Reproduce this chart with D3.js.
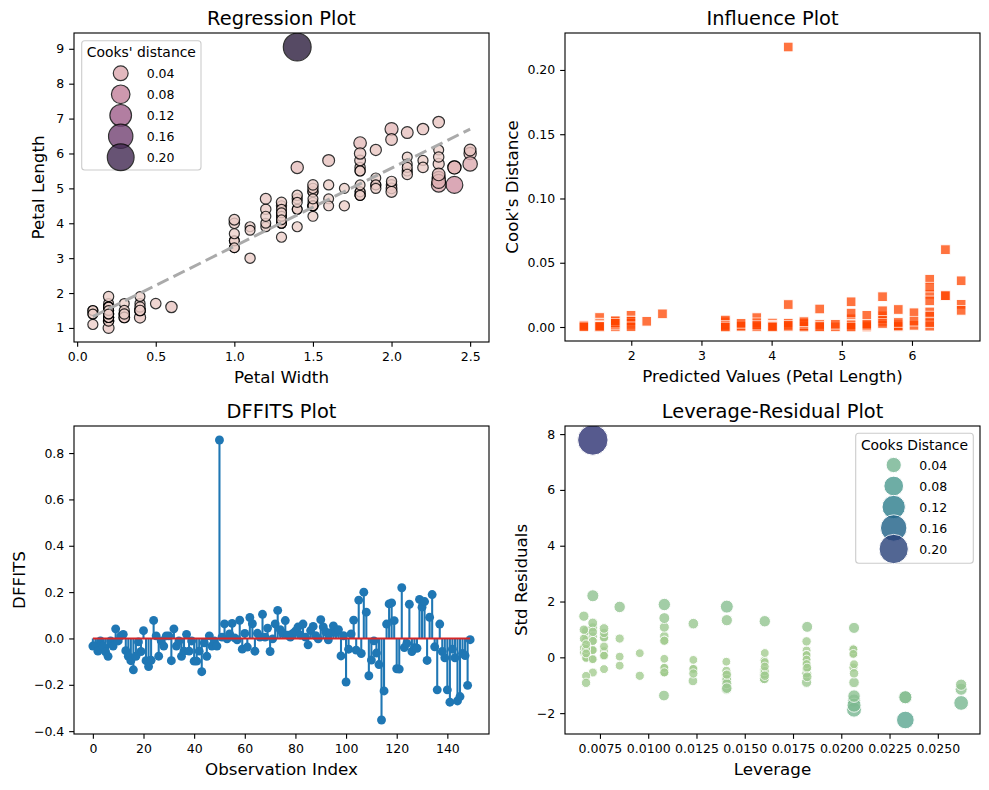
<!DOCTYPE html>
<html>
<head>
<meta charset="utf-8">
<script src="https://cdn.jsdelivr.net/npm/d3@7"></script>
<style>
body { margin: 0; background: #fff; }
svg { display: block; font-family: "DejaVu Sans", sans-serif; }
</style>
</head>
<body>
<svg id="chart" width="989" height="790"></svg>
<script>
// iris petal measurements; row 50 has its petal length pushed up to 9.05 (the outlier)
const petalWidth = [
  0.2,0.2,0.2,0.2,0.2,0.4,0.3,0.2,0.2,0.1, 0.2,0.2,0.1,0.1,0.2,0.4,0.4,0.3,0.3,0.3,
  0.2,0.4,0.2,0.5,0.2,0.2,0.4,0.2,0.2,0.2, 0.2,0.4,0.1,0.2,0.2,0.2,0.2,0.1,0.2,0.2,
  0.3,0.3,0.2,0.6,0.4,0.3,0.2,0.2,0.2,0.2,
  1.4,1.5,1.5,1.3,1.5,1.3,1.6,1.0,1.3,1.4, 1.0,1.5,1.0,1.4,1.3,1.4,1.5,1.0,1.5,1.1,
  1.8,1.3,1.5,1.2,1.3,1.4,1.4,1.7,1.5,1.0, 1.1,1.0,1.2,1.6,1.5,1.6,1.5,1.3,1.3,1.3,
  1.2,1.4,1.2,1.0,1.3,1.2,1.3,1.3,1.1,1.3,
  2.5,1.9,2.1,1.8,2.2,2.1,1.7,1.8,1.8,2.5, 2.0,1.9,2.1,2.0,2.4,2.3,1.8,2.2,2.3,1.5,
  2.3,2.0,2.0,1.8,2.1,1.8,1.8,1.8,2.1,1.6, 1.9,2.0,2.2,1.5,1.4,2.3,2.4,1.8,1.8,2.1,
  2.4,2.3,1.9,2.3,2.5,2.3,1.9,2.0,2.3,1.8
];
const petalLength = [
  1.4,1.4,1.3,1.5,1.4,1.7,1.4,1.5,1.4,1.5, 1.5,1.6,1.4,1.1,1.2,1.5,1.3,1.4,1.7,1.5,
  1.7,1.5,1.0,1.7,1.9,1.6,1.6,1.5,1.4,1.6, 1.6,1.5,1.5,1.4,1.5,1.2,1.3,1.4,1.3,1.5,
  1.3,1.3,1.3,1.6,1.9,1.4,1.6,1.4,1.5,1.4,
  9.05,4.5,4.9,4.0,4.6,4.5,4.7,3.3,4.6,3.9, 3.5,4.2,4.0,4.7,3.6,4.4,4.5,4.1,4.5,3.9,
  4.8,4.0,4.9,4.7,4.3,4.4,4.8,5.0,4.5,3.5, 3.8,3.7,3.9,5.1,4.5,4.5,4.7,4.4,4.1,4.0,
  4.4,4.6,4.0,3.3,4.2,4.2,4.2,4.3,3.0,4.1,
  6.0,5.1,5.9,5.6,5.8,6.6,4.5,6.3,5.8,6.1, 5.1,5.3,5.5,5.0,5.1,5.3,5.5,6.7,6.9,5.0,
  5.7,4.9,6.7,4.9,5.7,6.0,4.8,4.9,5.6,5.8, 6.1,6.4,5.6,5.1,5.6,6.1,5.6,5.5,4.8,5.4,
  5.6,5.1,5.1,5.9,5.7,5.2,5.0,5.2,5.4,5.1
];

const legendValues = [0.04, 0.08, 0.12, 0.16, 0.20];
const regXTicks = [0, 0.5, 1, 1.5, 2, 2.5];
const regYTicks = [1, 2, 3, 4, 5, 6, 7, 8, 9];
const inflXTicks = [2, 3, 4, 5, 6];
const inflYTicks = [0, 0.05, 0.10, 0.15, 0.20];
const dffXTicks = [0, 20, 40, 60, 80, 100, 120, 140];
const dffYTicks = [-0.4, -0.2, 0, 0.2, 0.4, 0.6, 0.8];
const levXTicks = [0.0075, 0.0100, 0.0125, 0.0150, 0.0175, 0.0200, 0.0225, 0.0250];
const levYTicks = [-2, 0, 2, 4, 6, 8];

// OLS: petal length ~ petal width, plus the usual influence measures
const n = petalWidth.length;
const xm = d3.mean(petalWidth), ym = d3.mean(petalLength);
let sxx = 0, sxy = 0;
petalWidth.forEach((x, i) => { sxx += (x - xm) ** 2; sxy += (x - xm) * (petalLength[i] - ym); });
const slope = sxy / sxx, icpt = ym - slope * xm;
const fitted = petalWidth.map(x => icpt + slope * x);
const resid = petalLength.map((y, i) => y - fitted[i]);
const leverage = petalWidth.map(x => 1 / n + (x - xm) ** 2 / sxx);
const sse = d3.sum(resid, e => e * e);
const s2 = sse / (n - 2);
const stdResid = resid.map((e, i) => e / Math.sqrt(s2 * (1 - leverage[i])));
const cooks = stdResid.map((r, i) => r * r / 2 * leverage[i] / (1 - leverage[i]));
const dffits = resid.map((e, i) => {
  const h = leverage[i];
  const s2i = (sse - e * e / (1 - h)) / (n - 3);
  return e / Math.sqrt(s2i * (1 - h)) * Math.sqrt(h / (1 - h));
});

const PT = 100 / 72;           // px per point
const TICK = 3.5 * PT;
const svg = d3.select('#chart');

// seaborn's default "ch:" cubehelix map
function cubehelixCh(t) {
  const x = 0.85 - 0.7 * t;
  const a = 0.8 * x * (1 - x) / 2, phi = 2 * Math.PI * 0.4 * x;
  const c = Math.cos(phi), s = Math.sin(phi);
  const cl = v => Math.max(0, Math.min(1, v)) * 255;
  return d3.rgb(cl(x + a * (-0.14861 * c + 1.78277 * s)),
                cl(x + a * (-0.29227 * c - 0.90649 * s)),
                cl(x + a * (1.97294 * c))).formatHex();
}
const crest = d3.piecewise(d3.interpolateRgb,
  ['#a5cd90', '#7dba91', '#59a590', '#40908e', '#287a8c', '#1c6488', '#254b7f', '#2c3172']);

const cookExt = d3.extent(cooks);
const cookNorm = d3.scaleLinear().domain(cookExt).range([0, 1]);
const regArea = d3.scaleLinear().domain(cookExt).range([50, 400]);
const levArea = d3.scaleLinear().domain(cookExt).range([40, 480]);
const radius = area => Math.sqrt(area) * PT / 2;

function padded(ext) {
  const m = (ext[1] - ext[0]) * 0.05;
  return [ext[0] - m, ext[1] + m];
}

let clipCount = 0;
function panel(box, xDom, yDom, xTicks, xFmt, yTicks, yFmt, title, xLabel, yLabel, yLabelX) {
  const g = svg.append('g');
  const x = d3.scaleLinear().domain(xDom).range([box.x0, box.x1]);
  const y = d3.scaleLinear().domain(yDom).range([box.y1, box.y0]);
  const id = 'clip' + (clipCount++);
  svg.append('clipPath').attr('id', id).append('rect')
    .attr('x', box.x0).attr('y', box.y0)
    .attr('width', box.x1 - box.x0).attr('height', box.y1 - box.y0);
  const plot = g.append('g').attr('clip-path', `url(#${id})`);

  const xa = g.append('g').attr('transform', `translate(0,${box.y1})`)
    .call(d3.axisBottom(x).tickValues(xTicks).tickFormat(d3.format(xFmt)).tickSize(TICK).tickPadding(TICK));
  const ya = g.append('g').attr('transform', `translate(${box.x0},0)`)
    .call(d3.axisLeft(y).tickValues(yTicks).tickFormat(d3.format(yFmt)).tickSize(TICK).tickPadding(TICK));
  [xa, ya].forEach(a => {
    a.select('.domain').remove();
    a.attr('font-size', 12.5).attr('font-family', null);
    a.selectAll('.tick line').attr('stroke', '#000').attr('stroke-width', 0.8 * PT);
    a.selectAll('.tick text').attr('fill', '#000');
  });

  g.append('rect').attr('x', box.x0).attr('y', box.y0)
    .attr('width', box.x1 - box.x0).attr('height', box.y1 - box.y0)
    .attr('fill', 'none').attr('stroke', '#000').attr('stroke-width', 0.8 * PT);

  g.append('text').attr('x', (box.x0 + box.x1) / 2).attr('y', box.y0 - 8)
    .attr('text-anchor', 'middle').attr('font-size', 19.4).text(title);
  g.append('text').attr('x', (box.x0 + box.x1) / 2).attr('y', box.y1 + 40.5)
    .attr('text-anchor', 'middle').attr('font-size', 16.7).text(xLabel);
  g.append('text')
    .attr('transform', `translate(${yLabelX},${(box.y0 + box.y1) / 2}) rotate(-90)`)
    .attr('text-anchor', 'middle').attr('font-size', 16.7).text(yLabel);
  return { g, x, y, plot };
}

function legend(g, frame, title, rowY, circX, labX, color, area, stroke, strokeW) {
  g.append('rect').attr('x', frame[0]).attr('y', frame[1])
    .attr('width', frame[2] - frame[0]).attr('height', frame[3] - frame[1])
    .attr('rx', 3).attr('fill', '#fff').attr('fill-opacity', 0.8)
    .attr('stroke', '#cccccc').attr('stroke-width', 1.1);
  g.append('text').attr('x', (frame[0] + frame[2]) / 2).attr('y', frame[1] + 16.5)
    .attr('text-anchor', 'middle').attr('font-size', 13.9).text(title);
  const row = g.selectAll('.lg').data(legendValues).enter().append('g')
    .attr('transform', (d, i) => `translate(0,${rowY + i * 21})`);
  row.append('circle').attr('cx', circX).attr('cy', 0)
    .attr('r', d => radius(area(d)))
    .attr('fill', d => color(cookNorm(d)))
    .attr('stroke', stroke).attr('stroke-width', strokeW).attr('opacity', 0.8);
  row.append('text').attr('x', labX).attr('y', 0).attr('dy', '0.36em')
    .attr('font-size', 12.5).text(d3.format('.2f'));
}

const idx = d3.range(n);

// --- Regression Plot
const A = panel({ x0: 74, x1: 489, y0: 33, y1: 342 },
  padded(d3.extent(petalWidth)), padded(d3.extent(petalLength)),
  regXTicks, '.1f', regYTicks, 'd',
  'Regression Plot', 'Petal Width', 'Petal Length', 43.5);
A.plot.selectAll('circle').data(idx).enter().append('circle')
  .attr('cx', i => A.x(petalWidth[i])).attr('cy', i => A.y(petalLength[i]))
  .attr('r', i => radius(regArea(cooks[i])))
  .attr('fill', i => cubehelixCh(cookNorm(cooks[i])))
  .attr('stroke', '#000').attr('stroke-width', 1.2).attr('opacity', 0.8);
const xr = d3.extent(petalWidth);
A.plot.append('path')
  .attr('d', d3.line().x(v => A.x(v)).y(v => A.y(icpt + slope * v))(xr))
  .attr('fill', 'none').attr('stroke', '#aaaaaa').attr('stroke-width', 3)
  .attr('stroke-dasharray', '12.5,5.5');
legend(A.g, [81.7, 40.7, 201, 170], "Cooks' distance", 73.3, 120.7, 146.7,
  cubehelixCh, regArea, '#000', 1.2);

// --- Influence Plot
const B = panel({ x0: 565, x1: 980, y0: 33, y1: 341 },
  padded(d3.extent(fitted)), padded(d3.extent(cooks)),
  inflXTicks, 'd', inflYTicks, '.2f',
  'Influence Plot', 'Predicted Values (Petal Length)', "Cook's Distance", 518);
const side = Math.sqrt(48) * PT;
B.plot.selectAll('rect').data(idx).enter().append('rect')
  .attr('x', i => B.x(fitted[i]) - side / 2).attr('y', i => B.y(cooks[i]) - side / 2)
  .attr('width', side).attr('height', side)
  .attr('fill', 'orangered').attr('stroke', '#fff').attr('stroke-width', 0.9)
  .attr('opacity', 0.75);

// --- DFFITS Plot
const C = panel({ x0: 74, x1: 489, y0: 426, y1: 734 },
  padded([0, n - 1]), padded(d3.extent(dffits.concat([0]))),
  dffXTicks, 'd', dffYTicks, '.1f',
  'DFFITS Plot', 'Observation Index', 'DFFITS', 25);
C.plot.selectAll('line.stem').data(idx).enter().append('line').attr('class', 'stem')
  .attr('x1', i => C.x(i)).attr('x2', i => C.x(i))
  .attr('y1', C.y(0)).attr('y2', i => C.y(dffits[i]))
  .attr('stroke', '#1f77b4').attr('stroke-width', 1.5 * PT);
C.plot.selectAll('circle').data(idx).enter().append('circle')
  .attr('cx', i => C.x(i)).attr('cy', i => C.y(dffits[i]))
  .attr('r', 3.2 * PT).attr('fill', '#1f77b4');
C.plot.append('line')
  .attr('x1', C.x(0)).attr('x2', C.x(n - 1)).attr('y1', C.y(0)).attr('y2', C.y(0))
  .attr('stroke', '#d62728').attr('stroke-width', 1.5 * PT);

// --- Leverage-Residual Plot
const D = panel({ x0: 565, x1: 980, y0: 426, y1: 734 },
  padded(d3.extent(leverage)), padded(d3.extent(stdResid)),
  levXTicks, '.4f', levYTicks, 'd',
  'Leverage-Residual Plot', 'Leverage', 'Std Residuals', 527);
D.plot.selectAll('circle').data(idx).enter().append('circle')
  .attr('cx', i => D.x(leverage[i])).attr('cy', i => D.y(stdResid[i]))
  .attr('r', i => radius(levArea(cooks[i])))
  .attr('fill', i => crest(cookNorm(cooks[i])))
  .attr('stroke', '#fff').attr('stroke-width', 1).attr('opacity', 0.8);
legend(D.g, [855.7, 433.3, 973.3, 563.3], 'Cooks Distance', 465, 893.7, 919.3,
  crest, levArea, '#fff', 1);
</script>
</body>
</html>
